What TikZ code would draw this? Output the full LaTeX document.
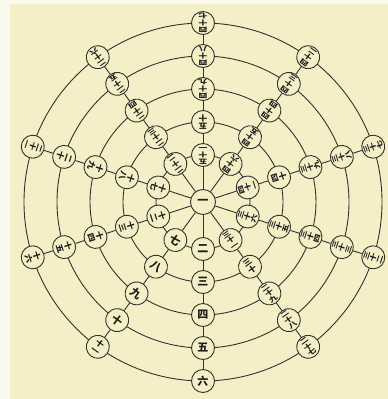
\documentclass[tikz,border=0pt]{standalone}
\usepackage{fontspec}
\usepackage{graphicx}
\newfontfamily\cjk{Noto Sans CJK SC}
\definecolor{paper}{RGB}{244,239,199}
\definecolor{margin}{RGB}{250,249,238}
\definecolor{ink}{RGB}{52,50,44}
\newcommand\Ltwo[2]{\scalebox{1.15}[1]{#1}\\\scalebox{1.15}[1]{#2}}
\newcommand\Lthree[3]{\scalebox{1.35}[1]{#1}\\\scalebox{1.35}[1]{#2}\\\scalebox{1.35}[1]{#3}}
\newcommand\nd[5]{\node[#1, rotate=#3+90] (n#2) at (#3:#4) {#5};}
\tikzset{
  numnode/.style={circle, draw=ink, line width=0.9pt, fill=paper, minimum size=23pt,
    inner sep=0pt, text=ink!60!black, align=center},
  onech/.style={numnode, font=\cjk\bfseries\fontsize{11}{11}\selectfont},
  twoch/.style={numnode, font=\cjk\bfseries\fontsize{7.7}{8.4}\selectfont},
  threech/.style={numnode, font=\cjk\bfseries\fontsize{6.5}{6.9}\selectfont},
  ringline/.style={draw=ink, line width=0.9pt},
  spokeline/.style={draw=ink, line width=0.9pt},
}
\begin{document}
\begin{tikzpicture}[x=1pt,y=1pt]
\fill[margin] (-203,-197) rectangle (185,202);
\fill[paper] (-193,-197) rectangle (185,198);
\useasboundingbox (-203,-197) rectangle (185,202);
% rings
\foreach \r in {47,80,113,146,179} \draw[ringline] (0,0) circle[radius=\r];
% centre
\node[onech, minimum size=25pt] (n1) at (0,0) {一};
% spoke 270
\nd{onech}{2}{270}{47}{二}
\nd{onech}{3}{270}{80}{三}
\nd{onech}{4}{270}{113}{四}
\nd{onech}{5}{270}{146}{五}
\nd{onech}{6}{270}{179}{六}
% spoke 234
\nd{onech}{7}{234}{47}{七}
\nd{onech}{8}{234}{80}{八}
\nd{onech}{9}{234}{113}{九}
\nd{onech}{10}{234}{146}{十}
\nd{twoch}{11}{234}{179}{\Ltwo{十}{一}}
% spoke 198
\nd{twoch}{12}{198}{47}{\Ltwo{十}{二}}
\nd{twoch}{13}{198}{80}{\Ltwo{十}{三}}
\nd{twoch}{14}{198}{113}{\Ltwo{十}{四}}
\nd{twoch}{15}{198}{146}{\Ltwo{十}{五}}
\nd{twoch}{16}{198}{179}{\Ltwo{十}{六}}
% spoke 162
\nd{twoch}{17}{162}{47}{\Ltwo{十}{七}}
\nd{twoch}{18}{162}{80}{\Ltwo{十}{八}}
\nd{twoch}{19}{162}{113}{\Ltwo{十}{九}}
\nd{twoch}{20}{162}{146}{\Ltwo{二}{十}}
\nd{threech}{21}{162}{179}{\Lthree{二}{十}{一}}
% spoke 126
\nd{threech}{22}{126}{47}{\Lthree{二}{十}{二}}
\nd{threech}{23}{126}{80}{\Lthree{二}{十}{三}}
\nd{threech}{24}{126}{113}{\Lthree{二}{十}{四}}
\nd{threech}{25}{126}{146}{\Lthree{二}{十}{五}}
\nd{threech}{26}{126}{179}{\Lthree{二}{十}{六}}
% spoke 90
\nd{threech}{51}{90}{47}{\Lthree{五}{十}{一}}
\nd{twoch}{50}{90}{80}{\Ltwo{五}{十}}
\nd{threech}{49}{90}{113}{\Lthree{四}{十}{九}}
\nd{threech}{48}{90}{146}{\Lthree{四}{十}{八}}
\nd{threech}{47}{90}{179}{\Lthree{四}{十}{七}}
% spoke 54
\nd{threech}{46}{54}{47}{\Lthree{四}{十}{六}}
\nd{threech}{45}{54}{80}{\Lthree{四}{十}{五}}
\nd{threech}{44}{54}{113}{\Lthree{四}{十}{四}}
\nd{threech}{43}{54}{146}{\Lthree{四}{十}{三}}
\nd{threech}{42}{54}{179}{\Lthree{四}{十}{二}}
% spoke 18
\nd{threech}{41}{18}{47}{\Lthree{四}{十}{一}}
\nd{twoch}{40}{18}{80}{\Ltwo{四}{十}}
\nd{threech}{39}{18}{113}{\Lthree{三}{十}{九}}
\nd{threech}{38}{18}{146}{\Lthree{三}{十}{八}}
\nd{threech}{37}{18}{179}{\Lthree{三}{十}{七}}
% spoke 342
\nd{threech}{36}{342}{47}{\Lthree{三}{十}{六}}
\nd{threech}{35}{342}{80}{\Lthree{三}{十}{五}}
\nd{threech}{34}{342}{113}{\Lthree{三}{十}{四}}
\nd{threech}{33}{342}{146}{\Lthree{三}{十}{三}}
\nd{threech}{32}{342}{179}{\Lthree{三}{十}{二}}
% spoke 306
\nd{threech}{31}{306}{47}{\Lthree{三}{十}{一}}
\nd{twoch}{30}{306}{80}{\Ltwo{三}{十}}
\nd{threech}{29}{306}{113}{\Lthree{二}{十}{九}}
\nd{threech}{28}{306}{146}{\Lthree{二}{十}{八}}
\nd{threech}{27}{306}{179}{\Lthree{二}{十}{七}}
% spokes
\draw[spokeline] (n1) -- (n2) -- (n3) -- (n4) -- (n5) -- (n6);
\draw[spokeline] (n1) -- (n7) -- (n8) -- (n9) -- (n10) -- (n11);
\draw[spokeline] (n1) -- (n12) -- (n13) -- (n14) -- (n15) -- (n16);
\draw[spokeline] (n1) -- (n17) -- (n18) -- (n19) -- (n20) -- (n21);
\draw[spokeline] (n1) -- (n22) -- (n23) -- (n24) -- (n25) -- (n26);
\draw[spokeline] (n1) -- (n51) -- (n50) -- (n49) -- (n48) -- (n47);
\draw[spokeline] (n1) -- (n46) -- (n45) -- (n44) -- (n43) -- (n42);
\draw[spokeline] (n1) -- (n41) -- (n40) -- (n39) -- (n38) -- (n37);
\draw[spokeline] (n1) -- (n36) -- (n35) -- (n34) -- (n33) -- (n32);
\draw[spokeline] (n1) -- (n31) -- (n30) -- (n29) -- (n28) -- (n27);
\end{tikzpicture}
\end{document}
